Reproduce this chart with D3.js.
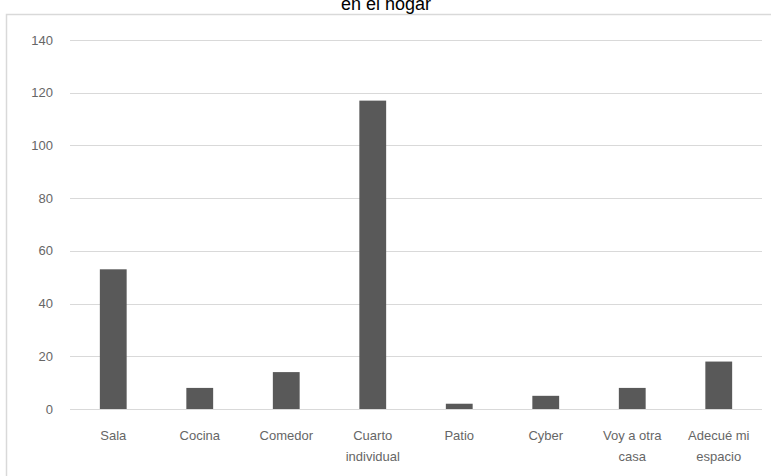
<!DOCTYPE html>
<html>
<head>
    <meta charset="utf-8">
    <title>Bar</title>
    <script src="https://cdn.jsdelivr.net/npm/d3@7"></script>
    <style>
        body { margin: 0; background: #fff; }
        text { font-family: "Liberation Sans", "Noto Sans", sans-serif; }
    </style>
</head>
<body>
    <svg width="771" height="476" id="mainsvg"></svg>
    <script>
        const categories = ['Sala', 'Cocina', 'Comedor', 'Cuarto individual', 'Patio', 'Cyber', 'Voy a otra casa', 'Adecué mi espacio'];
        const labelLines = [['Sala'], ['Cocina'], ['Comedor'], ['Cuarto', 'individual'], ['Patio'], ['Cyber'], ['Voy a otra', 'casa'], ['Adecué mi', 'espacio']];
        const values = [53, 8, 14, 117, 2, 5, 8, 18];
        const yTicks = [0, 20, 40, 60, 80, 100, 120, 140];

        const svg = d3.select('svg');
        const margin = { left: 70, right: 9, top: 40, bottom: 67 };
        const width = +svg.attr('width');
        const height = +svg.attr('height');

        // chart frame
        svg.append('rect').attr('x', 6.5).attr('y', 14.5).attr('width', 780).attr('height', 480)
            .attr('fill', 'none').attr('stroke', '#d9d9d9').attr('stroke-width', 1.5);

        svg.append('text').attr('x', 386).attr('y', 10).attr('text-anchor', 'middle')
            .attr('font-size', 18).attr('fill', '#000')
            .text('en el hogar');

        const x = d3.scaleBand().domain(categories)
            .range([margin.left, width - margin.right]).paddingInner(0.69).paddingOuter(0.345);
        const y = d3.scaleLinear().domain([0, 140]).range([height - margin.bottom, margin.top]);

        // gridlines
        svg.selectAll('.grid').data(yTicks).join('line').attr('class', 'grid')
            .attr('x1', margin.left).attr('x2', width - margin.right)
            .attr('y1', d => Math.round(y(d)) + 0.5).attr('y2', d => Math.round(y(d)) + 0.5)
            .attr('stroke', '#d9d9d9').attr('stroke-width', 1);

        svg.selectAll('.ylab').data(yTicks).join('text').attr('class', 'ylab')
            .attr('x', 53).attr('y', d => y(d)).attr('dy', '0.35em')
            .attr('text-anchor', 'end').attr('font-size', 13).attr('fill', '#666')
            .text(d => d);

        svg.selectAll('.bar').data(values).join('rect').attr('class', 'bar')
            .attr('x', (d, i) => x(categories[i])).attr('width', x.bandwidth())
            .attr('y', d => y(d)).attr('height', d => y(0) - y(d))
            .attr('fill', '#595959');

        const xl = svg.selectAll('.xlab').data(labelLines).join('text').attr('class', 'xlab')
            .attr('x', (d, i) => x(categories[i]) + x.bandwidth() / 2)
            .attr('y', 440).attr('text-anchor', 'middle')
            .attr('font-size', 13).attr('fill', '#666');
        xl.selectAll('tspan').data(d => d).join('tspan')
            .attr('x', function () { return d3.select(this.parentNode).attr('x'); })
            .attr('dy', (d, i) => i === 0 ? 0 : 21)
            .text(d => d);
    </script>
</body>
</html>
